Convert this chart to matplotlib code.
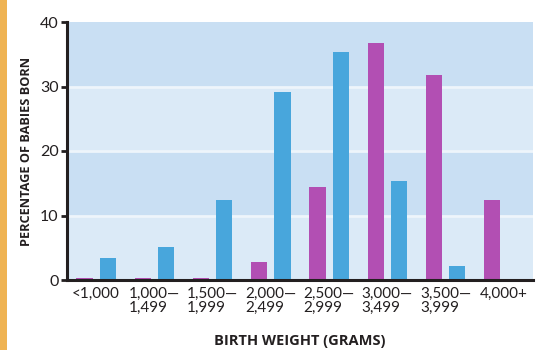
import matplotlib
matplotlib.use("Agg")
import matplotlib.pyplot as plt
import numpy as np
from matplotlib.patches import Rectangle

categories = ["<1,000", "1,000—\n1,499", "1,500—\n1,999", "2,000—\n2,499",
              "2,500—\n2,999", "3,000—\n3,499", "3,500—\n3,999", "4,000+"]
magenta_vals = [0.3, 0.3, 0.3, 2.8, 14.4, 36.7, 31.8, 12.4]
blue_vals = [3.4, 5.1, 12.4, 29.1, 35.3, 15.3, 2.2, 0.2]
yticks = [0, 10, 20, 30, 40]

plt.rcParams['font.family'] = ['Lato', 'DejaVu Sans']

fig = plt.figure(figsize=(5.37, 3.5), dpi=100)
fig.patch.set_facecolor("white")
fig.add_artist(Rectangle((0, 0), 7/537, 1, transform=fig.transFigure,
                         facecolor="#efb353", edgecolor="none"))

ax = fig.add_axes([67/537, 70/350, 466/537, 258/350])
ax.set_xlim(-0.5, 7.5)
ax.set_ylim(0, 40)

band_colors = ["#dbeaf7", "#c9dff3", "#dbeaf7", "#c9dff3"]
for i, c in enumerate(band_colors):
    ax.axhspan(i * 10, (i + 1) * 10, facecolor=c, edgecolor="none", zorder=0)
for y in [10, 20, 30]:
    ax.axhline(y, color="#eef5fb", lw=2, zorder=0.5)

x = np.arange(len(categories))
w = 0.28
off = 0.2
ax.bar(x - off, magenta_vals, width=w, color="#b24fb3", zorder=2)
ax.bar(x + off, blue_vals, width=w, color="#48a6dc", zorder=2)

for s in ["top", "right"]:
    ax.spines[s].set_visible(False)
ax.spines["left"].set_linewidth(2.2)
ax.spines["bottom"].set_linewidth(2.2)
ax.spines["left"].set_color("#231f20")
ax.spines["bottom"].set_color("#231f20")

ax.set_yticks(yticks)
ax.set_yticklabels([str(v) for v in yticks], fontsize=11.5, color="#231f20")
ax.tick_params(axis="y", direction="out", length=4, width=2, color="#231f20", pad=2)
ax.set_xticks(x)
ax.set_xticklabels(categories, fontsize=11, color="#231f20", multialignment="left",
                   linespacing=1.0)
ax.tick_params(axis="x", length=0, pad=5)

lab_font = dict(family=["Open Sans", "DejaVu Sans"], fontweight="bold",
                color="#231f20")
ax.set_ylabel("PERCENTAGE OF BABIES BORN", labelpad=5, fontsize=9.2, **lab_font)
ax.set_xlabel("BIRTH WEIGHT (GRAMS)", labelpad=14, fontsize=10.5, **lab_font)

fig.savefig("out.png", dpi=100)
